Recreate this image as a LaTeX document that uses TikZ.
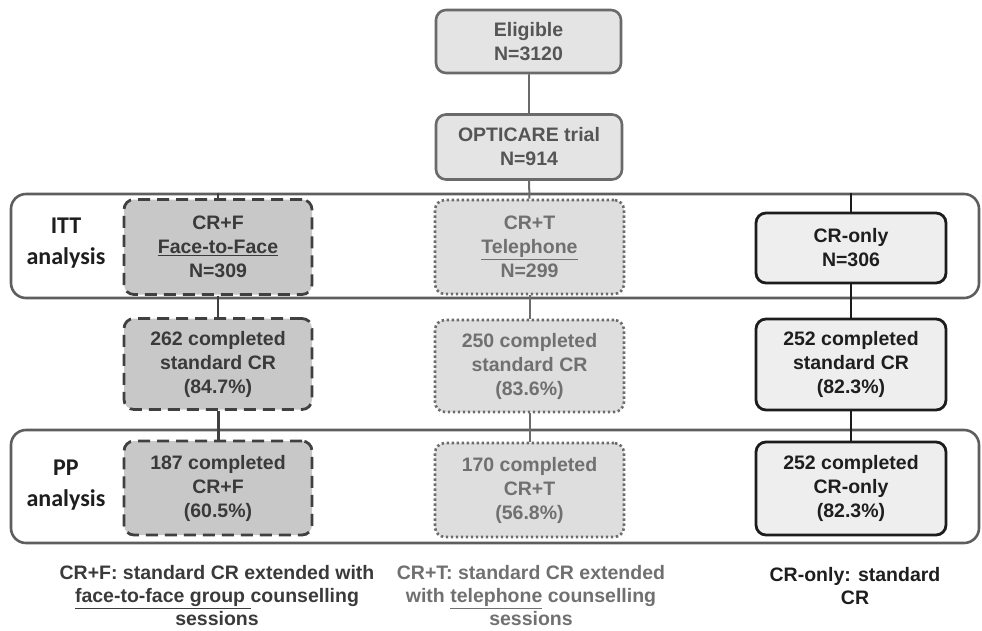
\documentclass[tikz,border=0pt]{standalone}
\usepackage{fontspec}
\setmainfont{Liberation Sans}
\newfontfamily\labelfont{Carlito}

\definecolor{framecol}{HTML}{5E5E5E}
\definecolor{topfill}{HTML}{E4E4E4}
\definecolor{topdraw}{HTML}{6A6A6A}
\definecolor{toptext}{HTML}{555555}
\definecolor{ffill}{HTML}{C8C8C8}
\definecolor{fdraw}{HTML}{404040}
\definecolor{ftext}{HTML}{3A3A3A}
\definecolor{tfill}{HTML}{DEDEDE}
\definecolor{tdraw}{HTML}{6C6C6C}
\definecolor{ttext}{HTML}{707070}
\definecolor{cfill}{HTML}{EEEEEE}
\definecolor{cdraw}{HTML}{1C1C1C}
\definecolor{ctext}{HTML}{1E1E1E}

\tikzset{
  boxbase/.style={rounded corners=10pt, align=center, inner sep=0pt,
    font=\bfseries\fontsize{19.5}{24}\selectfont},
  topbox/.style={boxbase, fill=topfill, draw=topdraw, line width=2.6pt, text=toptext},
  fbox/.style={boxbase, fill=ffill, draw=fdraw, line width=2.8pt, text=ftext,
    dash pattern=on 12pt off 7pt},
  tbox/.style={boxbase, fill=tfill, draw=tdraw, line width=2.6pt, text=ttext,
    dash pattern=on 2.4pt off 2.6pt},
  cbox/.style={boxbase, fill=cfill, draw=cdraw, line width=2.8pt, text=ctext},
  framebox/.style={rounded corners=15pt, fill=white, draw=framecol, line width=2.6pt,
    inner sep=0pt},
  sidelabel/.style={align=center, text=ctext,
    font=\labelfont\bfseries\fontsize{24}{31}\selectfont},
  note/.style={align=center, inner sep=1pt, font=\bfseries\fontsize{19.5}{23}\selectfont},
  toplink/.style={draw=topdraw, line width=2.4pt},
  flink/.style={draw=fdraw, line width=2.4pt},
  tlink/.style={draw=tdraw, line width=2pt},
  clink/.style={draw=cdraw, line width=2.8pt},
}

\begin{document}
\begin{tikzpicture}[x=1pt, y=-1pt]
\useasboundingbox (0,0) rectangle (982,630);

% analysis frames
\node[framebox, minimum width=968pt, minimum height=104pt] (itt) at (495,246) {};
\node[framebox, minimum width=968pt, minimum height=113pt] (pp) at (495,486.5) {};

\node[sidelabel] (ittlab) at (66,243) {ITT\\analysis};
\node[sidelabel] (pplab) at (66,485) {PP\\analysis};

% top of the flow
\node[topbox, minimum width=185pt, minimum height=63pt] (elig) at (528.5,41.5)
  {Eligible\\N=3120};
\node[topbox, minimum width=186pt, minimum height=65pt] (opt) at (529,147)
  {OPTICARE trial\\N=914};

% randomised arms
\node[fbox, minimum width=188pt, minimum height=95pt] (ittF) at (218,247)
  {\fontsize{19.5}{21.5}\selectfont CR+F\\\underline{Face-to-Face}\\N=309};
\node[tbox, minimum width=189pt, minimum height=94pt] (ittT) at (529.5,247)
  {\fontsize{19.5}{22.5}\selectfont CR+T\\\underline{Telephone}\\N=299};
\node[cbox, minimum width=190pt, minimum height=70pt] (ittC) at (851,248)
  {CR-only\\N=306};

% standard CR completion
\node[fbox, minimum width=188pt, minimum height=91pt] (midF) at (218,364)
  {262 completed\\standard CR\\(84.7\%)};
\node[tbox, minimum width=189pt, minimum height=92pt] (midT) at (529.5,366)
  {250 completed\\standard CR\\(83.6\%)};
\node[cbox, minimum width=190pt, minimum height=91pt] (midC) at (851,364.5)
  {252 completed\\standard CR\\(82.3\%)};

% per-protocol completion
\node[fbox, minimum width=188pt, minimum height=94pt] (ppF) at (218,488)
  {187 completed\\CR+F\\(60.5\%)};
\node[tbox, minimum width=189pt, minimum height=94pt] (ppT) at (529.5,490)
  {170 completed\\CR+T\\(56.8\%)};
\node[cbox, minimum width=190pt, minimum height=93pt] (ppC) at (851,488.5)
  {252 completed\\CR-only\\(82.3\%)};

% connectors
\draw[toplink] (elig.south) -- (opt.south |- elig.south) -- (opt.north);
\draw[tlink] (opt.south) -- (ittT.north);
\draw[tlink] (ittT.south) -- (midT.north);
\draw[tlink] (midT.south) -- (ppT.north);

\draw[flink, line width=1.6pt] (ittF.north |- itt.north) -- (ittF.north);
\draw[flink] (ittF.south) -- (midF.north);
\draw[flink, line width=3pt] (midF.south) -- (ppF.north);

\draw[clink] (ittC.north |- itt.north) -- (ittC.north);
\draw[clink] (ittC.south) -- (midC.north);
\draw[clink] (midC.south) -- (ppC.north);

% arm descriptions
\node[note, text=ftext] (noteF) at (217,596)
  {CR+F: standard CR extended with\\\underline{face-to-face group }counselling\\sessions};
\node[note, text=ttext] (noteT) at (531,596)
  {CR+T: standard CR extended\\with \underline{telephone} counselling\\sessions};
\node[note, text=ctext] (noteC) at (855,586)
  {CR-only: standard\\CR};
\end{tikzpicture}
\end{document}
